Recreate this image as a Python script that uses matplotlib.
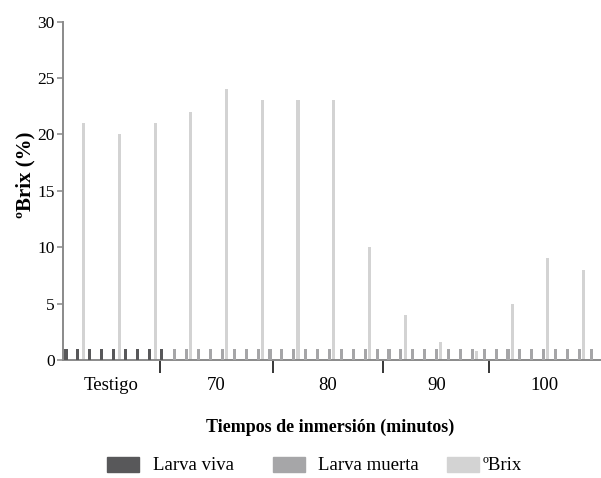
#!/usr/bin/env python3

"""
Brix (%) and larva state per replicate, by immersion time.
"""

from typing import List

import matplotlib.pyplot as plt
from matplotlib.patches import Rectangle

# Data

groups: List[str] = ["Testigo", "70", "80", "90", "100"]

# one entry per larva (3 replicates x 3 larvae per group)
larva_viva: List[List[float]] = [
    [1, 1, 1, 1, 1, 1, 1, 1, 1],
    [0, 0, 0, 0, 0, 0, 0, 0, 0],
    [0, 0, 0, 0, 0, 0, 0, 0, 0],
    [0, 0, 0, 0, 0, 0, 0, 0, 0],
    [0, 0, 0, 0, 0, 0, 0, 0, 0],
]
larva_muerta: List[List[float]] = [
    [0, 0, 0, 0, 0, 0, 0, 0, 0],
    [1, 1, 1, 1, 1, 1, 1, 1, 1],
    [1, 1, 1, 1, 1, 1, 1, 1, 1],
    [1, 1, 1, 1, 1, 1, 1, 1, 1],
    [1, 1, 1, 1, 1, 1, 1, 1, 1],
]

# one entry per replicate
brix: List[List[float]] = [
    [21, 20, 21],
    [22, 24, 23],
    [23, 23, 10],
    [4, 1.6, 0.8],
    [5, 9, 8],
]

y_ticks: List[int] = [0, 5, 10, 15, 20, 25, 30]


def main() -> None:
    plt.rcParams["font.family"] = ["Liberation Serif", "DejaVu Serif"]

    c_viva = "#58585a"
    c_muerta = "#a6a6a8"
    c_brix = "#d3d3d3"

    fig = plt.figure(figsize=(6.01, 4.78), dpi=100)
    ax = fig.add_axes([63 / 601, 118 / 478, 537 / 601, 338.5 / 478])

    # x layout: one unit per larva slot
    bar_w = 0.26
    x_larva: List[float] = []
    for g, vals in enumerate(larva_viva):
        start = 0.25 if g == 0 else 9.4 + 9 * (g - 1)
        x_larva += [start + i for i in range(len(vals))]

    flat_brix: List[float] = [v for grp in brix for v in grp]
    x_brix: List[float] = [1.75 + 3 * k for k in range(len(flat_brix))]

    flat_viva: List[float] = [v for grp in larva_viva for v in grp]
    flat_muerta: List[float] = [v for grp in larva_muerta for v in grp]

    ax.bar(x_brix, flat_brix, width=bar_w, color=c_brix, zorder=2)
    ax.bar(x_larva, flat_viva, width=bar_w, color=c_viva, zorder=3)
    ax.bar(x_larva, flat_muerta, width=bar_w, color=c_muerta, zorder=3)

    ax.set_xlim(0, 45.13)
    ax.set_ylim(0, 30)

    # group separators and centred group labels
    separators: List[float] = [8.15, 17.65, 26.9, 35.84]
    edges = [0.0] + separators + [45.13]
    centers = [(edges[i] + edges[i + 1]) / 2 for i in range(len(groups))]

    ax.set_xticks(separators)
    ax.set_xticklabels([])
    ax.tick_params(axis="x", which="major", direction="out", length=9,
                   width=1.1, color="black")
    ax.set_xticks(centers, minor=True)
    ax.set_xticklabels(groups, minor=True, fontsize=13.5)
    ax.tick_params(axis="x", which="minor", length=0, pad=12)

    ax.set_yticks(y_ticks)
    ax.set_yticklabels([str(t) for t in y_ticks], fontsize=12.5)
    ax.tick_params(axis="y", direction="out", length=4, width=1.1,
                   color="#888888", pad=2)

    for side in ["top", "right"]:
        ax.spines[side].set_visible(False)
    for side in ["left", "bottom"]:
        ax.spines[side].set_color("#8a8a8a")
        ax.spines[side].set_linewidth(1.4)

    fig.text(25 / 601, 1 - 175 / 478, "ºBrix (%)", rotation=90, fontsize=15,
             fontweight="bold", ha="center", va="center")
    fig.text(330 / 601, 1 - 427 / 478, "Tiempos de inmersión (minutos)",
             fontsize=13, fontweight="bold", ha="center", va="center")

    # legend drawn by hand
    legend_items = [
        (107, 153, c_viva, "Larva viva"),
        (273, 318, c_muerta, "Larva muerta"),
        (447, 483, c_brix, "ºBrix"),
    ]
    for x0, xt, color, label in legend_items:
        fig.add_artist(Rectangle((x0 / 601, 1 - 472 / 478), 32 / 601, 15 / 478,
                                 transform=fig.transFigure, color=color))
        fig.text(xt / 601, 1 - 465 / 478, label, fontsize=13.5,
                 ha="left", va="center")

    fig.savefig("out.png", dpi=100)


if __name__ == "__main__":
    main()
